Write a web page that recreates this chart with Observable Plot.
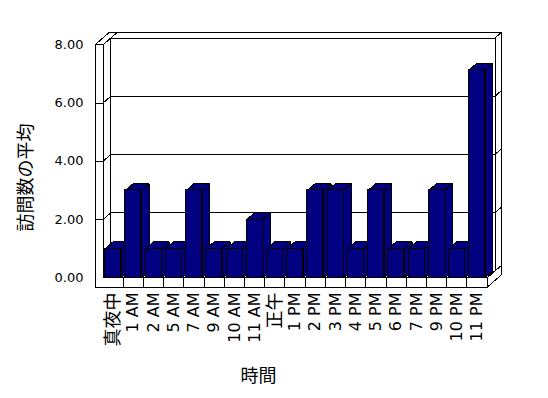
<!DOCTYPE html>
<html><head><meta charset="utf-8">
<script src="https://cdn.jsdelivr.net/npm/d3@7"></script>
<script src="https://cdn.jsdelivr.net/npm/@observablehq/plot@0.6"></script>
<style>
body{margin:0;background:#fff;}
#chart svg{shape-rendering:crispEdges;}
</style></head><body><div id="chart"></div>
<script>
const categories = ["真夜中","1 AM","2 AM","5 AM","7 AM","9 AM","10 AM","11 AM","正午","1 PM","2 PM","3 PM","4 PM","5 PM","6 PM","7 PM","9 PM","10 PM","11 PM"];
const values = [1,3,1,1,3,1,1,2,1,1,3,3,1,3,1,1,3,1,7.14];
const yTicks = [0,2,4,6,8];
const gridValues = [2,4,6];
const xTitle = "時間";
const yTitle = "訪問数の平均";

const width = 548, height = 398;
const margin = {top: 44.3, right: 61.3, bottom: 120.7, left: 102.5};
const yMax = 8;
const n = categories.length;
const xPx = (width - margin.left - margin.right) / n;
const yPx = (height - margin.top - margin.bottom) / yMax;
// pixel -> data unit helpers (for the oblique 3-D projection and label placement)
const toX = px => (px - margin.left) / xPx;
const toY = py => (height - margin.bottom - py) / yPx;
const DX = 7.8 / xPx, DY = 6.8 / yPx;
const wallT = 8 / xPx;
const floorT = 9.4 / yPx;
const backT = 0.85;
const gap = 2.2 / xPx, bw = 16 / xPx;

const P = (x, y, z = 0) => ({x: x + z * DX, y: y + z * DY});
const poly = (id, pts) => pts.map(p => ({id, ...P(...p)}));

const walls = [
  ...poly("backTop", [[-wallT, yMax, 1], [n, yMax, 1], [n, yMax, 1 + backT], [-wallT, yMax, 1 + backT]]),
  ...poly("backSide", [[n, 0, 1], [n, yMax, 1], [n, yMax, 1 + backT], [n, 0, 1 + backT]]),
  ...poly("backFront", [[0, 0, 1], [n, 0, 1], [n, yMax, 1], [0, yMax, 1]]),
  ...poly("leftTop", [[-wallT, yMax, 0], [0, yMax, 0], [0, yMax, 1 + backT], [-wallT, yMax, 1 + backT]]),
  ...poly("leftInner", [[0, 0, 0], [0, yMax, 0], [0, yMax, 1], [0, 0, 1]]),
  ...poly("floorTop", [[0, 0, 0], [n, 0, 0], [n, 0, 1], [0, 0, 1]]),
  ...poly("floorSide", [[n, -floorT, 0], [n, 0, 0], [n, 0, 1 + backT], [n, -floorT, 1 + backT]]),
  ...poly("front", [[-wallT, -floorT, 0], [-wallT, yMax, 0], [0, yMax, 0], [0, 0, 0], [n, 0, 0], [n, -floorT, 0]])
];
const grid = gridValues.flatMap(g => poly("g" + g, [[-wallT, g, 0], [0, g, 0], [0, g, 1], [n, g, 1], [n, g, 1 + backT]]));

const bars = values.map((v, i) => ({i, v, L: i + gap, R: i + gap + bw}));
const sides = bars.flatMap(b => poly("s" + b.i, [[b.R, 0, 0], [b.R, b.v, 0], [b.R, b.v, 1], [b.R, 0, 1]]));
const tops = bars.flatMap(b => poly("t" + b.i, [[b.L, b.v, 0], [b.R, b.v, 0], [b.R, b.v, 1], [b.L, b.v, 1]]));

const navy = "#000080";
const lineOpts = {x: "x", y: "y", z: "id", curve: "linear-closed", stroke: "black", strokeWidth: 1, strokeLinejoin: "miter", strokeLinecap: "butt"};
const font = "'DejaVu Sans', 'Noto Sans CJK JP', sans-serif";

const chart = Plot.plot({
  width, height,
  marginTop: margin.top, marginRight: margin.right, marginBottom: margin.bottom, marginLeft: margin.left,
  style: {fontFamily: font, fontSize: "13px", background: "white", color: "black"},
  x: {domain: [0, n], axis: null},
  y: {domain: [0, yMax], axis: null, label: null},
  marks: [
    Plot.line(walls, {...lineOpts, fill: "white"}),
    Plot.line(grid, {x: "x", y: "y", z: "id", stroke: "black", strokeWidth: 1}),
    Plot.ruleX(d3.range(1, n), {x: d => d, y1: () => -floorT, y2: () => 0, stroke: "black", strokeWidth: 1}),
    Plot.line(sides, {...lineOpts, fill: navy}),
    Plot.line(tops, {...lineOpts, fill: navy}),
    Plot.rect(bars, {x1: "L", x2: "R", y1: () => 0, y2: "v", fill: navy, stroke: "black", strokeWidth: 1}),
    // y tick labels
    Plot.text(yTicks, {x: () => toX(83), y: d => d, text: d3.format(".2f"), textAnchor: "end", fontSize: 13, fill: "black", fontFamily: font}),
    // x category labels
    Plot.text(categories, {x: (d, i) => i + 0.5, y: () => toY(292), rotate: -90, textAnchor: "end",
      fontSize: d => /[^\x00-\x7F]/.test(d) ? 18 : 16, fill: "black", fontFamily: font}),
    // axis titles
    Plot.text([yTitle], {x: () => toX(26), y: () => toY(177), rotate: -90, fontSize: 18, fill: "black", fontFamily: font}),
    Plot.text([xTitle], {x: () => toX(258), y: () => toY(376), fontSize: 18, fill: "black", fontFamily: font})
  ]
});
document.getElementById("chart").appendChild(chart);
</script></body></html>
